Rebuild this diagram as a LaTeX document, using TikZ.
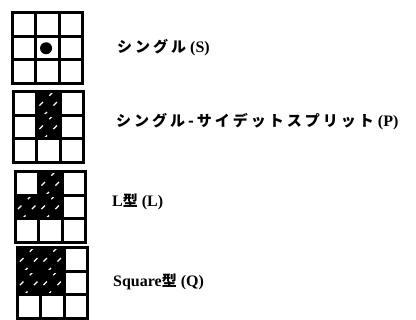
\documentclass[tikz,border=0pt]{standalone}
\usepackage{fontspec}
\setmainfont{Liberation Serif}
\newfontfamily\jp[LetterSpace=20]{Noto Sans CJK JP}
\usetikzlibrary{positioning}

% cell size of the 3x3 grids
\newcommand{\cs}{23.5}
% Japanese part of a caption
\newcommand{\kana}[1]{{\jp\fontsize{15}{16}\selectfont #1}}

% one 3x3 grid, origin at its top-left corner
\newcommand{\cellgrid}{%
  \foreach \i in {0,1,2,3} {
    \draw[gridline] (\i*\cs,0) -- (\i*\cs,3*\cs);
    \draw[gridline] (0,\i*\cs) -- (3*\cs,\i*\cs);
  }}

% dark cell with white streaks
\newcommand{\darkcell}[2]{%
  \fill (#1*\cs,#2*\cs) rectangle ++(\cs,\cs);
  \begin{scope}
    \clip (#1*\cs,#2*\cs) rectangle ++(\cs,\cs);
    \foreach \d in {-7,7}
      \draw[streak] (#1*\cs+\d,#2*\cs+\cs) -- ++(\cs,-\cs);
  \end{scope}}

\begin{document}
\begin{tikzpicture}[x=1pt, y=-1pt,
  gridline/.style={line width=3pt, line cap=rect},
  streak/.style={white, line width=1.2pt, dash pattern=on 5pt off 9pt},
  caption/.style={anchor=west, inner sep=0pt, font=\bfseries\fontsize{16}{18}\selectfont}]

\useasboundingbox (0,0) rectangle (416,320);

% Single
\begin{scope}[shift={(12,13)}]
  \fill (1.45*\cs,1.5*\cs) circle (6);
  \cellgrid
\end{scope}
\node[caption] (single) at (117,48) {\kana{シングル} (S)};

% Single-sided split
\begin{scope}[shift={(13,92)}]
  \darkcell{1}{0}
  \darkcell{1}{1}
  \cellgrid
\end{scope}
\node[caption] (split) at (116,122) {\kana{シングル-サイデットスプリット} (P)};

% L type
\begin{scope}[shift={(15,172)}]
  \darkcell{1}{0}
  \darkcell{0}{1}
  \darkcell{1}{1}
  \cellgrid
\end{scope}
\node[caption] (ltype) at (112,202) {L\kana{型} (L)};

% Square type
\begin{scope}[shift={(17,248)}]
  \darkcell{0}{0}
  \darkcell{1}{0}
  \darkcell{0}{1}
  \darkcell{1}{1}
  \cellgrid
\end{scope}
\node[caption] (square) at (113,282) {Square\kana{型} (Q)};

\end{tikzpicture}
\end{document}
